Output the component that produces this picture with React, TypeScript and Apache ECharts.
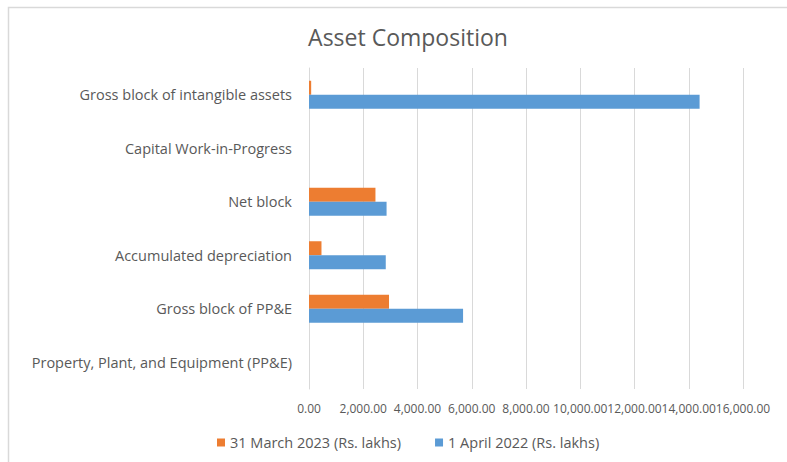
import React, { useEffect, useRef } from "react";
import * as echarts from "echarts";

const categories = [
  "Property, Plant, and Equipment (PP&E)",
  "Gross block of PP&E",
  "Accumulated depreciation",
  "Net block",
  "Capital Work-in-Progress",
  "Gross block of intangible assets",
];
const april2022 = [null, 5680, 2830, 2860, null, 14400];
const march2023 = [null, 2950, 460, 2450, null, 80];
const seriesNames = ["31 March 2023 (Rs. lakhs)", "1 April 2022 (Rs. lakhs)"];

const FONT = "'Open Sans', sans-serif";
const GRAY = "#595959";

export default function App() {
  const ref = useRef<HTMLDivElement>(null);
  useEffect(() => {
    const chart = echarts.init(ref.current!, null, { renderer: "svg" });
    chart.setOption({
      animation: false,
      backgroundColor: "#ffffff",
      textStyle: { fontFamily: FONT },
      title: {
        text: "Asset Composition",
        left: 403,
        top: 20,
        textAlign: "center",
        textStyle: { fontFamily: FONT, fontSize: 23, fontWeight: "normal", color: GRAY },
      },
      graphic: [
        {
          type: "rect",
          shape: { x: 8.5, y: 7.5, width: 820, height: 480 },
          style: { fill: "none", stroke: "#d9d9d9", lineWidth: 1.5 },
          silent: true,
        },
      ],
      legend: {
        data: seriesNames,
        left: 212,
        top: 430,
        itemWidth: 8,
        itemHeight: 8,
        itemGap: 34,
        icon: "rect",
        textStyle: { fontFamily: FONT, fontSize: 14.5, color: GRAY },
      },
      grid: { left: 309, right: 44, top: 68, bottom: 73, containLabel: false },
      xAxis: {
        type: "value",
        min: 0,
        max: 16000,
        interval: 2000,
        axisLine: { show: false },
        axisTick: { show: false },
        splitLine: { lineStyle: { color: "#d9d9d9", width: 1 } },
        axisLabel: {
          fontFamily: FONT,
          fontSize: 12,
          color: GRAY,
          margin: 13,
          showMinLabel: true,
          showMaxLabel: true,
          hideOverlap: false,
          formatter: (v: number) =>
            v.toLocaleString("en-US", { minimumFractionDigits: 2, maximumFractionDigits: 2 }),
        },
      },
      yAxis: {
        type: "category",
        data: categories,
        axisLine: { show: true, lineStyle: { color: "#d9d9d9" } },
        axisTick: { show: false },
        axisLabel: { fontFamily: FONT, fontSize: 14.5, color: GRAY, margin: 17 },
      },
      series: [
        {
          name: seriesNames[0],
          type: "bar",
          data: march2023,
          itemStyle: { color: "#ed7d31" },
          barWidth: 14,
          barGap: "0%",
        },
        {
          name: seriesNames[1],
          type: "bar",
          data: april2022,
          itemStyle: { color: "#5b9bd5" },
          barWidth: 14,
          barGap: "0%",
        },
      ],
    });
    return () => chart.dispose();
  }, []);
  return (
    <div
      ref={ref}
      style={{ position: "fixed", left: 0, top: 0, width: 787, height: 462 }}
    />
  );
}
